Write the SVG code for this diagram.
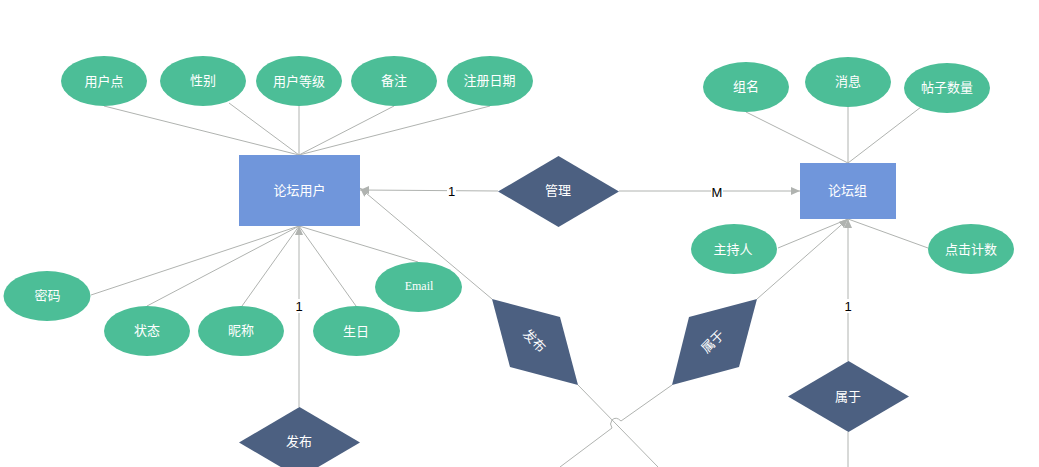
<svg xmlns="http://www.w3.org/2000/svg" width="1039" height="467" viewBox="0 0 1039 467">
<style>
text{font-family:"Noto Sans CJK SC","Liberation Sans",sans-serif;font-size:13px;fill:#fff;text-anchor:middle;dominant-baseline:central}
.e{fill:#4cbe97}.r{fill:#7096db}.d{fill:#4c6081}
.c path{fill:none;stroke:#b0b3b0;stroke-width:1}
.l{font-family:"Liberation Sans",sans-serif;fill:#000}
.b{fill:#fff}
</style>
<defs><marker id="a" markerUnits="userSpaceOnUse" markerWidth="10" markerHeight="10" refX="9" refY="4" orient="auto"><path d="M0 0L9 4L0 8Z" fill="#b0b3b0"/></marker></defs>
<rect width="1039" height="467" fill="#fff"/>
<g id="connectors" class="c">
<path d="M104 106L299 155M229 103L299 155M299 106V155M394 106L299 155M490 106L299 155"/>
<path d="M91 295L299 226M147 306L299 226M242 306L299 226M356 306L299 226M418 262L299 226"/>
<path d="M299 407V226" marker-end="url(#a)"/>
<path d="M498 191L360 190" marker-end="url(#a)"/>
<path d="M619 191H800" marker-end="url(#a)"/>
<path d="M492 299L360 188" marker-end="url(#a)"/>
<path d="M578 385L658 467"/>
<path d="M746 112L848 163M848 107V163M921 107L848 163"/>
<path d="M778 248L848 219M928 248L848 219"/>
<path d="M757 299L848 219" marker-end="url(#a)"/>
<path d="M848 361V219" marker-end="url(#a)"/>
<path d="M848 432V467"/>
<path d="M672 385L621 421Q616 416 612 420Q609 424 612 428L560 467"/>
</g>
<g id="n-user"><rect class="r" x="239" y="155" width="121" height="71"/><text x="299.500" y="189">论坛用户</text></g>
<g id="n-group"><rect class="r" x="800" y="163" width="96" height="56"/><text x="847.500" y="189">论坛组</text></g>
<g id="n1"><ellipse class="e" cx="104" cy="81" rx="43" ry="25"/><text x="104" y="80">用户点</text></g>
<g id="n2"><ellipse class="e" cx="203" cy="81" rx="43" ry="25"/><text x="203" y="79">性别</text></g>
<g id="n3"><ellipse class="e" cx="299" cy="81" rx="43" ry="25"/><text x="299" y="80">用户等级</text></g>
<g id="n4"><ellipse class="e" cx="394" cy="81" rx="43" ry="25"/><text x="394" y="79">备注</text></g>
<g id="n5"><ellipse class="e" cx="490" cy="81" rx="43" ry="25"/><text x="489.500" y="79">注册日期</text></g>
<g id="n6"><ellipse class="e" cx="47" cy="296" rx="43.500" ry="25"/><text x="47.500" y="294">密码</text></g>
<g id="n7"><ellipse class="e" cx="147" cy="331" rx="43" ry="25"/><text x="147" y="329">状态</text></g>
<g id="n8"><ellipse class="e" cx="241" cy="331" rx="43" ry="25"/><text x="241" y="329">昵称</text></g>
<g id="n9"><ellipse class="e" cx="356.500" cy="331" rx="43.500" ry="25"/><text x="356" y="330">生日</text></g>
<g id="n10"><ellipse class="e" cx="418.500" cy="287" rx="43.500" ry="25"/><text x="419" y="286" style="font-family:'Liberation Serif',serif;font-size:12px">Email</text></g>
<g id="n11"><ellipse class="e" cx="746" cy="87" rx="43" ry="25"/><text x="746" y="85">组名</text></g>
<g id="n12"><ellipse class="e" cx="848" cy="82" rx="43" ry="25"/><text x="848" y="80">消息</text></g>
<g id="n13"><ellipse class="e" cx="947" cy="88" rx="43" ry="25"/><text x="947" y="86">帖子数量</text></g>
<g id="n14"><ellipse class="e" cx="734" cy="249" rx="43" ry="25"/><text x="733" y="248">主持人</text></g>
<g id="n15"><ellipse class="e" cx="971" cy="249" rx="43" ry="25"/><text x="971" y="248">点击计数</text></g>
<g id="d1"><path class="d" d="M558.500 156L619 191.500L558.500 227L498 191.500Z"/><text x="558" y="189">管理</text></g>
<g id="d2"><path class="d" d="M848.500 361L909 396.500L848.500 432L788 396.500Z"/><text x="848" y="395">属于</text></g>
<g id="d3"><path class="d" d="M299.500 407L360 442.500L299.500 478L239 442.500Z"/><text x="299" y="440">发布</text></g>
<g id="d4"><path class="d" d="M492 299L560 317L578 385L510 367Z"/><text transform="translate(535 340) rotate(45)">发布</text></g>
<g id="d5"><path class="d" d="M757 299L689 317L672 385L739 367Z"/><text transform="translate(712 341) rotate(-45)">属于</text></g>
<g id="labels">
<rect class="b" x="447" y="184" width="9" height="14"/><text class="l" x="451.500" y="191">1</text>
<rect class="b" x="711" y="184" width="12" height="14"/><text class="l" x="717" y="192">M</text>
<rect class="b" x="295" y="299" width="9" height="14"/><text class="l" x="299" y="306">1</text>
<rect class="b" x="844" y="299" width="9" height="14"/><text class="l" x="848" y="306">1</text>
</g>
</svg>
